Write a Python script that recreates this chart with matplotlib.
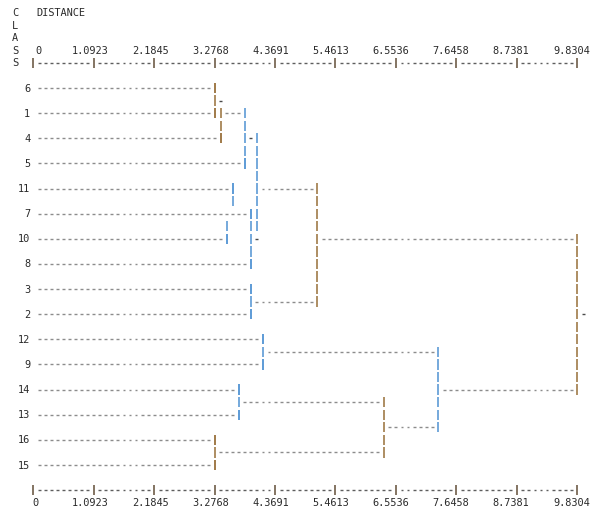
import numpy as np
import matplotlib
matplotlib.use("Agg")
import matplotlib.pyplot as plt

# leaves from top to bottom, and the distance where each leaf's line stops
leaf_labels = ['6', '1', '4', '5', '11', '7', '10', '8', '3', '2', '12', '9', '14', '13', '16', '15']
leaf_dist = [3.28, 3.28, 3.39, 3.82, 3.60, 3.93, 3.50, 3.93, 3.93, 3.93, 4.15, 4.15, 3.71, 3.71, 3.28, 3.28]

# vertical joins: distance, top and bottom (in leaf positions)
merge_dist = [3.28, 3.39, 3.82, 4.04, 3.60, 3.50, 3.93, 5.13, 3.93, 9.83, 4.15, 7.32, 3.71, 6.34, 3.28]
merge_top = [0, 1, 1, 2, 4, 5.5, 5, 4, 8, 6, 10, 10.5, 12, 12.5, 14]
merge_bot = [1, 2, 3, 5.5, 4.5, 6, 7, 8.5, 9, 12, 11, 13.5, 13, 14.5, 15]

# dashed links between joins
link_pos = [1, 4, 6, 8.5, 10.5, 12, 12.5, 13.5, 14.5]
link_from = [3.39, 4.04, 5.13, 3.93, 4.15, 7.32, 3.71, 6.34, 3.28]
link_to = [3.82, 5.13, 9.83, 5.13, 7.32, 9.83, 6.34, 7.32, 6.34]

# single '-' node marks
mark_pos = [0.5, 2, 6, 9]
mark_dist = [3.39, 3.93, 4.04, 9.94]

tick_vals = [0, 1.0923, 2.1845, 3.2768, 4.3691, 5.4613, 6.5536, 7.6458, 8.7381, 9.8304]

#  layout of the text grid
max_dist = tick_vals[-1]
ncol = 90
cw = max_dist / ncol           # one character in distance units
px_per_unit = 6.044 / cw
x0_px = 33.3                    # pixel of distance 0
line0_px = 12.6                 # pixel of first text line
line_px = 12.567                # text line height
W, H = 603, 511

BROWN = '#a07a48'
BLUE = '#5d9bd6'
warm_cols = {30, 31, 47, 58, 90}
DASH = '#8c8c8c'
TEXT = '#2a2a2a'
FONT = 'DejaVu Sans Mono'
FS = 7.4


def col(d):
    return int(round(d / cw))


def line_of(pos):
    return 6 + 2 * pos


fig = plt.figure(figsize=(W / 100, H / 100), dpi=100)
ax = fig.add_axes([0, 0, 1, 1])
ax.set_xlim(-x0_px / px_per_unit, (W - x0_px) / px_per_unit)
ax.set_ylim((H - line0_px) / line_px, -line0_px / line_px)
ax.axis('off')

dash_half = 0.24 * cw
bar_half = 0.41


def dashes(line, c_start, c_end, color=DASH, lw=1.0):
    cs = np.arange(c_start, c_end + 1)
    if len(cs) == 0:
        return
    ax.hlines([line] * len(cs), cs * cw - dash_half, cs * cw + dash_half,
              colors=color, linewidth=lw, capstyle='butt')


def bar(c, l_top, l_bot, color=None):
    ls = np.arange(l_top, l_bot + 1)
    if color is None:
        color = BROWN if c in warm_cols else BLUE
    ax.vlines([c * cw] * len(ls), ls - bar_half, ls + bar_half,
              colors=color, linewidth=1.2, capstyle='butt')


def txt(c, line, s, ha='center'):
    ax.text(c * cw, line + 0.28, s, ha=ha, va='baseline',
            fontsize=FS, family=FONT, color=TEXT)


# header
for i, ch in enumerate('CLASS'):
    txt(-3, i, ch)
txt(0.5, 0, 'DISTANCE', ha='left')

# axes lines at top and bottom
for ax_line, lab_line, zero_off in [(4, 3, 0.8), (38, 39, 0.35)]:
    tick_cols = [col(v) for v in tick_vals]
    for c in range(0, ncol + 1):
        if c in tick_cols:
            bar(c, ax_line, ax_line, color='#6e5c48')
        else:
            dashes(ax_line, c, c, color='#5e5e5e')
    for k, v in enumerate(tick_vals):
        if k == 0:
            txt(zero_off, lab_line, '0')
        else:
            txt(col(v) - 0.45 - 0.06 * k, lab_line, f'{v:.4f}')

# leaves
for p, (lab, d) in enumerate(zip(leaf_labels, leaf_dist)):
    ln = line_of(p)
    txt(-0.5, ln, lab, ha='right')
    dashes(ln, 1, col(d) - 1)
    bar(col(d), ln, ln)

# joins
for d, t, b in zip(merge_dist, merge_top, merge_bot):
    bar(col(d), int(line_of(t)), int(line_of(b)))

for p, a, b in zip(link_pos, link_from, link_to):
    dashes(int(line_of(p)), col(a) + 1, col(b) - 1)

for p, d in zip(mark_pos, mark_dist):
    dashes(int(line_of(p)), col(d), col(d), color='#4a4a4a')

plt.savefig('out.png', dpi=100)
